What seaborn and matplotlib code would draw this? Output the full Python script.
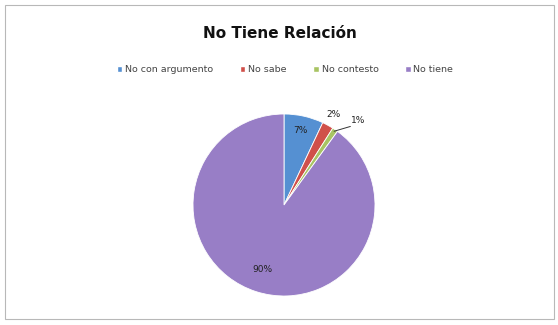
import numpy as np
import matplotlib
matplotlib.use("Agg")
import matplotlib.pyplot as plt
import seaborn as sns

categories = ["No con argumento", "No sabe", "No contesto", "No tiene"]
values = [7, 2, 1, 90]
pct_labels = ["7%", "2%", "1%", "90%"]
title = "No Tiene Relación"

sns.set_theme(style="white")
plt.rcParams["font.family"] = ["DejaVu Sans"]
colors = ["#5590D2", "#D0504A", "#A8C463", "#987EC6"]

W, H = 558, 325
fig = plt.figure(figsize=(W / 100, H / 100), dpi=100)
fig.patch.set_facecolor("white")

# chart frame
frame = plt.Rectangle((5 / W, 6 / H), 549 / W, 314 / H, transform=fig.transFigure,
                      fill=False, edgecolor="#B8B8B8", linewidth=0.8)
fig.patches.append(frame)

cx, cy, r = 284, 205, 91
ax = fig.add_axes([(cx - r) / W, (H - cy - r) / H, 2 * r / W, 2 * r / H])
wedges, _ = ax.pie(values, colors=colors, startangle=90, counterclock=False,
                   radius=1.0, wedgeprops=dict(edgecolor="white", linewidth=0.6))
ax.set_xlim(-1, 1)
ax.set_ylim(-1, 1)
ax.set_aspect("equal")
ax.axis("off")

# percentage labels
label_r = [0.84, 1.14, 1.24, 0.75]
for w, lab, lr in zip(wedges, pct_labels, label_r):
    mid = np.deg2rad((w.theta1 + w.theta2) / 2)
    if lab == "1%":
        mid -= np.deg2rad(7)
    x, y = lr * np.cos(mid), lr * np.sin(mid)
    ax.text(x, y, lab, ha="center", va="center", fontsize=6.5, color="#222222",
            clip_on=False)

# leader line for the smallest slice
w = wedges[2]
mid = np.deg2rad((w.theta1 + w.theta2) / 2)
ax.plot([0.98 * np.cos(mid), 1.13 * np.cos(mid - np.deg2rad(6))],
        [0.98 * np.sin(mid), 1.13 * np.sin(mid - np.deg2rad(6))],
        color="#333333", linewidth=0.7, clip_on=False)

fig.text(280 / W, 1 - 33 / H, title, ha="center", va="center",
         fontsize=11, fontweight="bold", color="#111111")

handles = [plt.Rectangle((0, 0), 1, 1, facecolor=c) for c in colors]
fig.legend(handles, categories, loc="center", bbox_to_anchor=(285 / W, 1 - 70 / H),
           ncol=4, frameon=False, fontsize=6.8, handlelength=0.6, handleheight=0.6,
           handletextpad=0.3, columnspacing=2.8, labelcolor="#444444")

fig.savefig("out.png", dpi=100, facecolor="white")
